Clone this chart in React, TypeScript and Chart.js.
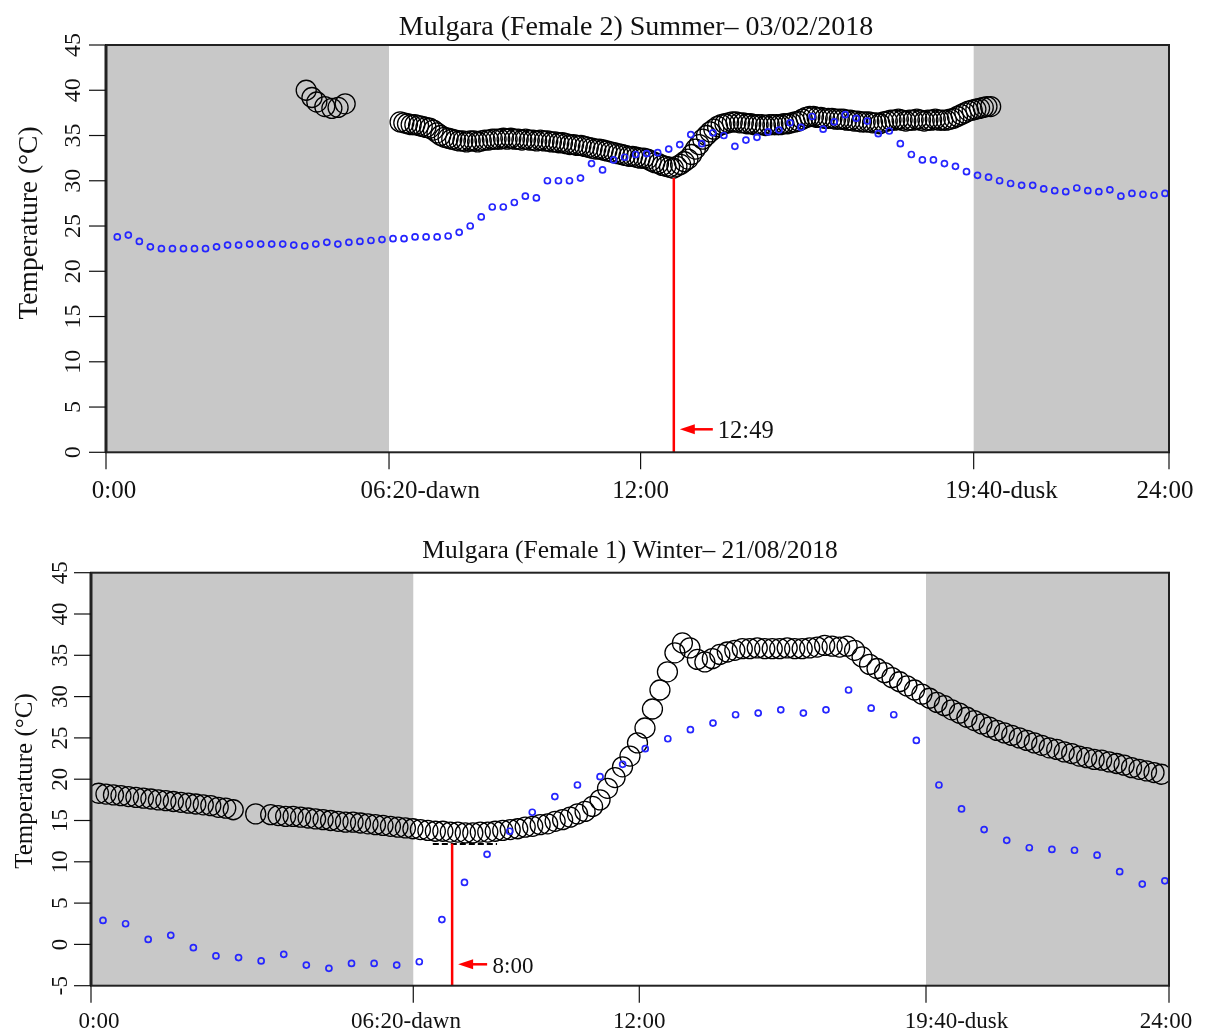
import React, { useEffect, useRef } from "react";
import { Chart, registerables } from "chart.js";

Chart.register(...registerables);

// ---------------- DATA ----------------
const summerTitle = "Mulgara (Female 2) Summer– 03/02/2018";
const winterTitle = "Mulgara (Female 1) Winter– 21/08/2018";
const yAxisTitle = "Temperature (°C)";
const xTickLabels = ["0:00", "06:20-dawn", "12:00", "19:40-dusk", "24:00"];
const summerXTickPos = [0, 6.39, 12.07, 19.59, 24];
const winterXTickPos = [0, 7.175, 12.207, 18.59, 24];
const summerYTicks = [0, 5, 10, 15, 20, 25, 30, 35, 40, 45];
const winterYTicks = [-5, 0, 5, 10, 15, 20, 25, 30, 35, 40, 45];

// Summer body temperature: early short cluster (hours / °C)
const summerBodyEarlyHours = [4.52, 4.65, 4.76, 4.94, 5.1, 5.24, 5.4];
const summerBodyEarly = [40.0, 39.2, 38.7, 38.2, 38.0, 38.1, 38.5];
// Summer body temperature: main record, 5-minute samples from 6.64 h
const summerBodyStart = 6.64;
const summerBodyStep = 5 / 60;
const summerBody = [
  36.5, 36.4, 36.3, 36.2, 36.2, 36.1, 36.0, 35.9, 35.8, 35.6,
  35.3, 35.0, 34.8, 34.7, 34.6, 34.5, 34.4, 34.4, 34.3, 34.4,
  34.4, 34.3, 34.4, 34.5, 34.5, 34.6, 34.6, 34.6, 34.7, 34.6,
  34.7, 34.6, 34.6, 34.5, 34.6, 34.5, 34.5, 34.4, 34.5, 34.4,
  34.4, 34.3, 34.3, 34.2, 34.2, 34.1, 34.0, 34.0, 33.9, 33.9,
  33.8, 33.7, 33.6, 33.5, 33.5, 33.4, 33.3, 33.2, 33.1, 33.0,
  32.9, 32.8, 32.7, 32.7, 32.6, 32.5, 32.5, 32.4, 32.2, 32.0,
  31.9, 31.7, 31.6, 31.5, 31.4, 31.6, 31.8, 32.1, 32.4, 32.9,
  33.5, 34.0, 34.6, 35.0, 35.4, 35.7, 36.0, 36.2, 36.3, 36.4,
  36.5, 36.5, 36.4, 36.4, 36.3, 36.3, 36.2, 36.2, 36.2, 36.1,
  36.2, 36.2, 36.2, 36.2, 36.3, 36.3, 36.4, 36.5, 36.6, 36.8,
  37.0, 37.1, 37.1, 37.0, 37.0, 36.9, 36.9, 36.9, 36.8, 36.8,
  36.8, 36.7, 36.7, 36.6, 36.6, 36.5, 36.5, 36.5, 36.4, 36.4,
  36.3, 36.5, 36.6, 36.7, 36.7, 36.8, 36.7, 36.6, 36.7, 36.7,
  36.8, 36.7, 36.6, 36.7, 36.7, 36.8, 36.7, 36.7, 36.7, 36.8,
  36.9, 37.1, 37.3, 37.5, 37.7, 37.8, 37.9, 38.0, 38.1, 38.2,
  38.2,
];
// Summer ambient temperature, 15-minute samples
const summerAmbientStart = 0.255;
const summerAmbientStep = 0.249;
const summerAmbient = [
  23.8, 24.0, 23.3, 22.7, 22.5, 22.5, 22.5, 22.5, 22.5, 22.7,
  22.9, 22.9, 23.0, 23.0, 23.0, 23.0, 22.9, 22.8, 23.0, 23.2,
  23.0, 23.2, 23.3, 23.4, 23.5, 23.6, 23.6, 23.8, 23.8, 23.8,
  23.9, 24.3, 25.0, 26.0, 27.1, 27.1, 27.6, 28.3, 28.1, 30.0,
  30.0, 30.0, 30.3, 31.9, 31.2, 32.3, 32.6, 32.9, 33.0, 33.1,
  33.5, 34.0, 35.1, 34.1, 35.3, 35.0, 33.8, 34.5, 34.8, 35.4,
  35.6, 36.4, 35.9, 37.1, 35.7, 36.5, 37.3, 36.9, 36.6, 35.2,
  35.5, 34.1, 32.9, 32.3, 32.3, 31.9, 31.6, 31.0, 30.6, 30.4,
  30.0, 29.7, 29.5, 29.5, 29.1, 28.9, 28.8, 29.2, 28.9, 28.8,
  29.0, 28.3, 28.6, 28.5, 28.4, 28.6,
];
// Winter body temperature, 10-minute samples from 0:10 (null = no reading)
const winterBodyStart = 1 / 6;
const winterBodyStep = 1 / 6;
const winterBody = [
  18.3, 18.2, 18.1, 18.0, 17.9, 17.8, 17.7, 17.6, 17.5, 17.4,
  17.3, 17.2, 17.1, 17.0, 16.9, 16.8, 16.6, 16.5, 16.3, null,
  null, 15.8, null, 15.7, 15.6, 15.5, 15.5, 15.4, 15.3, 15.2,
  15.1, 15.0, 14.9, 14.8, 14.8, 14.7, 14.6, 14.5, 14.4, 14.3,
  14.2, 14.1, 14.0, 13.9, 13.8, 13.7, 13.7, 13.6, 13.6, 13.5,
  13.5, 13.6, 13.6, 13.7, 13.8, 13.9, 14.0, 14.2, 14.3, 14.5,
  14.6, 14.9, 15.1, 15.4, 15.8, 16.1, 16.7, 17.5, 18.9, 20.2,
  21.5, 22.8, 24.4, 26.2, 28.5, 30.8, 33.0, 35.3, 36.5, 35.9,
  34.5, 34.2, 34.6, 35.1, 35.4, 35.6, 35.8, 35.8, 35.9, 35.8,
  35.8, 35.8, 35.9, 35.8, 35.8, 35.9, 36.0, 36.2, 36.1, 36.0,
  36.1, 35.6, 34.8, 33.9, 33.4, 32.9, 32.3, 31.8, 31.3, 30.8,
  30.3, 29.8, 29.3, 28.9, 28.4, 28.0, 27.5, 27.1, 26.7, 26.3,
  25.9, 25.6, 25.3, 25.0, 24.7, 24.4, 24.1, 23.8, 23.6, 23.3,
  23.1, 22.8, 22.6, 22.4, 22.3, 22.1, 21.9, 21.7, 21.4, 21.2,
  21.0, 20.8, 20.6,
];
// Winter ambient temperature, ~30-minute samples
const winterAmbientStart = 0.267;
const winterAmbientStep = 0.503;
const winterAmbient = [
  2.9, 2.5, 0.6, 1.1, -0.4, -1.4, -1.6, -2.0, -1.2, -2.5,
  -2.9, -2.3, -2.3, -2.5, -2.1, 3.0, 7.5, 10.9, 13.7, 16.0,
  17.9, 19.3, 20.3, 21.8, 23.7, 24.9, 26.0, 26.8, 27.8, 28.0,
  28.4, 28.0, 28.4, 30.8, 28.6, 27.8, 24.7, 19.3, 16.4, 13.9,
  12.6, 11.7, 11.5, 11.4, 10.8, 8.8, 7.3, 7.7,
];
// Marked events (time position, temperature at top of marker line, label)
const summerEventTime = 12.82;
const summerEventTemp = 30.3;
const summerEventLabel = "12:49";
const winterEventTime = 8.04;
const winterEventTemp = 12.2;
const winterEventLabel = "8:00";
const winterMinSegment = [7.61, 9.04];
const winterMinSegmentTemp = 12.15;

// ---------------- HELPERS ----------------
const FONT = '"Liberation Serif", "Times New Roman", serif';

function seriesPoints(start: number, step: number, values: (number | null)[]) {
  const pts: { x: number; y: number }[] = [];
  values.forEach((v, i) => {
    if (v !== null) pts.push({ x: start + i * step, y: v });
  });
  return pts;
}
function pairedPoints(xs: number[], ys: number[]) {
  return xs.map((x, i) => ({ x, y: ys[i] }));
}

type PanelCfg = {
  height: number;
  padding: { left: number; top: number; right: number; bottom: number };
  yMin: number;
  yMax: number;
  yTicks: number[];
  xTickPos: number[];
  xLabelOffsets: number[];
  title: string;
  titleX: number;
  titleBaseline: number;
  titleSize: number;
  yTitleX: number;
  yTitleY: number;
  yTitleSize: number;
  yTickBaselineX: number;
  yTickSize: number;
  xLabelBaseline: number;
  xLabelSize: number;
  eventTime: number;
  eventTemp: number;
  eventLabel: string;
  arrowRise: number;
  tipGap: number;
  tailGap: number;
  labelGap: number;
  eventSize: number;
  segment?: number[];
  segmentTemp?: number;
  datasets: any[];
};

function makeDecor(cfg: PanelCfg) {
  return {
    id: "decor",
    beforeDatasetsDraw(chart: any) {
      const { ctx, chartArea: a, scales } = chart;
      const x = scales.x;
      ctx.save();
      ctx.fillStyle = "#c8c8c8";
      const nights = [
        [cfg.xTickPos[0], cfg.xTickPos[1]],
        [cfg.xTickPos[3], cfg.xTickPos[4]],
      ];
      for (const [s, e] of nights) {
        const x0 = x.getPixelForValue(s);
        const x1 = x.getPixelForValue(e);
        ctx.fillRect(x0, a.top, x1 - x0, a.bottom - a.top);
      }
      ctx.restore();
    },
    afterDatasetsDraw(chart: any) {
      const { ctx, chartArea: a, scales } = chart;
      const x = scales.x;
      const y = scales.y;
      ctx.save();

      // dashed minimum segment
      if (cfg.segment && cfg.segmentTemp !== undefined) {
        ctx.strokeStyle = "#000";
        ctx.lineWidth = 2;
        ctx.setLineDash([6, 3]);
        const sy = y.getPixelForValue(cfg.segmentTemp);
        ctx.beginPath();
        ctx.moveTo(x.getPixelForValue(cfg.segment[0]), sy);
        ctx.lineTo(x.getPixelForValue(cfg.segment[1]), sy);
        ctx.stroke();
        ctx.setLineDash([]);
      }

      // red event marker
      const ex = x.getPixelForValue(cfg.eventTime);
      ctx.strokeStyle = "#ff0000";
      ctx.fillStyle = "#ff0000";
      ctx.lineWidth = 2.5;
      ctx.beginPath();
      ctx.moveTo(ex, a.bottom);
      ctx.lineTo(ex, y.getPixelForValue(cfg.eventTemp));
      ctx.stroke();
      const ay = a.bottom - cfg.arrowRise;
      ctx.beginPath();
      ctx.moveTo(ex + cfg.tailGap, ay);
      ctx.lineTo(ex + cfg.tipGap + 10, ay);
      ctx.stroke();
      ctx.beginPath();
      ctx.moveTo(ex + cfg.tipGap, ay);
      ctx.lineTo(ex + cfg.tipGap + 15, ay - 5);
      ctx.lineTo(ex + cfg.tipGap + 15, ay + 5);
      ctx.closePath();
      ctx.fill();
      ctx.fillStyle = "#111";
      ctx.font = `${cfg.eventSize}px ${FONT}`;
      ctx.textAlign = "left";
      ctx.textBaseline = "alphabetic";
      ctx.fillText(cfg.eventLabel, ex + cfg.labelGap, ay + cfg.eventSize * 0.36);

      // frame
      ctx.strokeStyle = "#222";
      ctx.lineWidth = 2;
      ctx.strokeRect(a.left, a.top, a.right - a.left, a.bottom - a.top);
      ctx.lineWidth = 3;
      ctx.beginPath();
      ctx.moveTo(a.left, a.top);
      ctx.lineTo(a.left, a.bottom);
      ctx.stroke();

      // x ticks & labels
      ctx.strokeStyle = "#111";
      ctx.lineWidth = 1.2;
      ctx.fillStyle = "#111";
      ctx.font = `${cfg.xLabelSize}px ${FONT}`;
      ctx.textAlign = "left";
      cfg.xTickPos.forEach((p, i) => {
        const px = x.getPixelForValue(p);
        ctx.beginPath();
        ctx.moveTo(px, a.bottom);
        ctx.lineTo(px, a.bottom + 17);
        ctx.stroke();
        const label = xTickLabels[i];
        const timePart = label.split("-")[0];
        const w = ctx.measureText(timePart).width;
        ctx.fillText(label, px - w / 2 + cfg.xLabelOffsets[i], cfg.xLabelBaseline);
      });

      // y ticks & rotated labels
      ctx.font = `${cfg.yTickSize}px ${FONT}`;
      cfg.yTicks.forEach((v) => {
        const py = y.getPixelForValue(v);
        ctx.beginPath();
        ctx.moveTo(a.left - 17, py);
        ctx.lineTo(a.left, py);
        ctx.stroke();
        ctx.save();
        ctx.translate(cfg.yTickBaselineX, py);
        ctx.rotate(-Math.PI / 2);
        ctx.textAlign = "center";
        ctx.textBaseline = "alphabetic";
        ctx.fillText(String(v), 0, 0);
        ctx.restore();
      });

      // y title
      ctx.save();
      ctx.font = `${cfg.yTitleSize}px ${FONT}`;
      ctx.translate(cfg.yTitleX, cfg.yTitleY);
      ctx.rotate(-Math.PI / 2);
      ctx.textAlign = "center";
      ctx.textBaseline = "alphabetic";
      ctx.fillText(yAxisTitle, 0, 0);
      ctx.restore();

      // title
      ctx.font = `${cfg.titleSize}px ${FONT}`;
      ctx.textAlign = "center";
      ctx.textBaseline = "alphabetic";
      ctx.fillText(cfg.title, cfg.titleX, cfg.titleBaseline);

      ctx.restore();
    },
  };
}

const bodyStyle = {
  pointRadius: 10,
  pointHoverRadius: 10,
  pointBorderWidth: 1.3,
  pointBorderColor: "#000",
  pointBackgroundColor: "rgba(0,0,0,0)",
  showLine: false,
};
const ambientStyle = {
  pointRadius: 3,
  pointHoverRadius: 3,
  pointBorderWidth: 1.7,
  pointBorderColor: "#2626ff",
  pointBackgroundColor: "rgba(0,0,0,0)",
  showLine: false,
};

const summerCfg: PanelCfg = {
  height: 510,
  padding: { left: 106, top: 45, right: 39, bottom: 57.7 },
  yMin: 0,
  yMax: 45,
  yTicks: summerYTicks,
  xTickPos: summerXTickPos,
  xLabelOffsets: [8, 0, 0, 0, -4],
  title: summerTitle,
  titleX: 636,
  titleBaseline: 35,
  titleSize: 28,
  yTitleX: 36.7,
  yTitleY: 223,
  yTitleSize: 27.5,
  yTickBaselineX: 80,
  yTickSize: 24,
  xLabelBaseline: 498,
  xLabelSize: 25,
  eventTime: summerEventTime,
  eventTemp: summerEventTemp,
  eventLabel: summerEventLabel,
  arrowRise: 23,
  tipGap: 6,
  tailGap: 39,
  labelGap: 44,
  eventSize: 24.5,
  datasets: [
    {
      label: "Ambient",
      data: seriesPoints(summerAmbientStart, summerAmbientStep, summerAmbient),
      ...ambientStyle,
    },
    {
      label: "Body",
      data: [
        ...pairedPoints(summerBodyEarlyHours, summerBodyEarly),
        ...seriesPoints(summerBodyStart, summerBodyStep, summerBody),
      ],
      ...bodyStyle,
    },
  ],
};

const winterCfg: PanelCfg = {
  height: 521,
  padding: { left: 91, top: 62.7, right: 39, bottom: 45.3 },
  yMin: -5,
  yMax: 45,
  yTicks: winterYTicks,
  xTickPos: winterXTickPos,
  xLabelOffsets: [8, -36, 0, 5, -3],
  title: winterTitle,
  titleX: 630,
  titleBaseline: 48.3,
  titleSize: 25.5,
  yTitleX: 31.7,
  yTitleY: 271,
  yTitleSize: 25,
  yTickBaselineX: 66.7,
  yTickSize: 23,
  xLabelBaseline: 518.3,
  xLabelSize: 23,
  eventTime: winterEventTime,
  eventTemp: winterEventTemp,
  eventLabel: winterEventLabel,
  arrowRise: 21.4,
  tipGap: 6,
  tailGap: 35,
  labelGap: 40.4,
  eventSize: 23,
  segment: winterMinSegment,
  segmentTemp: winterMinSegmentTemp,
  datasets: [
    {
      label: "Ambient",
      data: seriesPoints(winterAmbientStart, winterAmbientStep, winterAmbient),
      ...ambientStyle,
    },
    {
      label: "Body",
      data: seriesPoints(winterBodyStart, winterBodyStep, winterBody),
      ...bodyStyle,
    },
  ],
};

function Panel({ cfg }: { cfg: PanelCfg }) {
  const ref = useRef<HTMLCanvasElement | null>(null);
  useEffect(() => {
    if (!ref.current) return;
    const chart = new Chart(ref.current, {
      type: "scatter",
      data: { datasets: cfg.datasets },
      options: {
        responsive: false,
        animation: false,
        devicePixelRatio: 1,
        layout: { padding: cfg.padding },
        plugins: {
          legend: { display: false },
          tooltip: { enabled: false },
          title: { display: false },
        },
        scales: {
          x: { type: "linear", min: 0, max: 24, display: false },
          y: { type: "linear", min: cfg.yMin, max: cfg.yMax, display: false },
        },
      },
      plugins: [makeDecor(cfg)],
    } as any);
    return () => chart.destroy();
  }, [cfg]);
  return (
    <canvas
      ref={ref}
      width={1208}
      height={cfg.height}
      style={{ display: "block", width: 1208, height: cfg.height }}
    />
  );
}

export default function App() {
  return (
    <div
      style={{
        position: "absolute",
        left: 0,
        top: 0,
        width: 1208,
        height: 1031,
        background: "#fff",
      }}
    >
      <Panel cfg={summerCfg} />
      <Panel cfg={winterCfg} />
    </div>
  );
}
